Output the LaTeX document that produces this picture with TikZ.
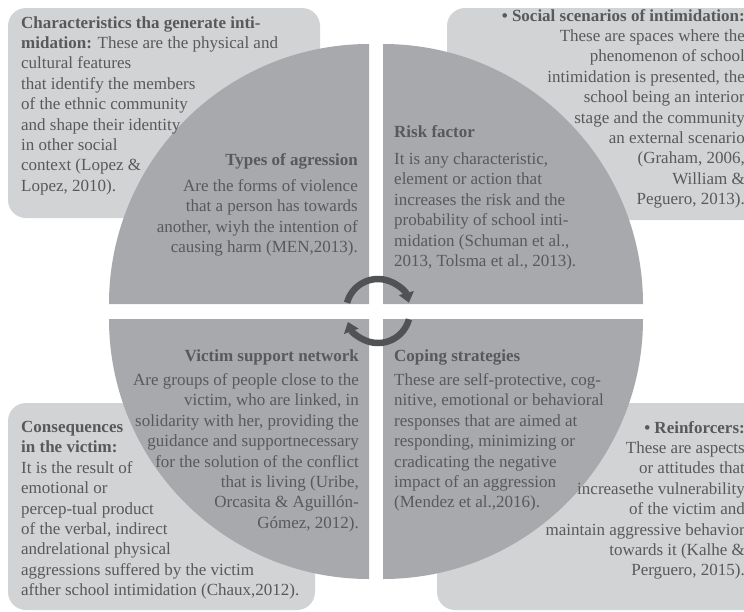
\documentclass[tikz,border=0pt]{standalone}
\usepackage{fontspec}
\setmainfont{Liberation Serif}
\usetikzlibrary{arrows.meta}
\definecolor{quad}{HTML}{A7A9AC}
\definecolor{light}{HTML}{D1D3D4}
\definecolor{txt}{HTML}{58595B}
\definecolor{ring}{HTML}{515254}
\begin{document}
\begin{tikzpicture}[x=1pt,y=-1pt,
  box/.style={fill=light, rounded corners=18pt},
  sector/.style={fill=quad},
  body/.style={inner sep=0pt, text=txt, font=\fontsize{17}{20.4}\selectfont},
  lblock/.style={body, align=left, anchor=north west},
  rblock/.style={body, align=right, anchor=north east},
  cyc/.style={draw=ring, line width=6.5pt, -{Triangle[width=15pt,length=10pt]}}]
\useasboundingbox (0,0) rectangle (744,611);
% light boxes
\path[box] (8,8) rectangle (320,218);
\path[box] (447,8) rectangle (770,220);
\path[box] (8,403) rectangle (315,610);
\path[box] (437,403) rectangle (770,610);
% quarter discs
\path[sector] (369,304) -- (109,304) arc[start angle=180, end angle=90, radius=260pt] -- cycle;
\path[sector] (383,304) -- (383,44) arc[start angle=90, end angle=0, radius=260pt] -- cycle;
\path[sector] (369,319) -- (369,579) arc[start angle=270, end angle=180, radius=260pt] -- cycle;
\path[sector] (383,319) -- (643,319) arc[start angle=0, end angle=-90, radius=260pt] -- cycle;
% cycle arrows
\coordinate (c) at (378,311);
\draw[cyc] ([shift={(165:32pt)}]c) arc[start angle=165, end angle=15, radius=32pt];
\draw[cyc] ([shift={(-15:32pt)}]c) arc[start angle=-15, end angle=-160, radius=32pt];
% box texts
\node[lblock] (tl) at (21,16) {\textbf{Characteristics tha generate inti-}\\
  \textbf{midation:} These are the physical and\\ cultural features\\ that identify the members\\
  of the ethnic community\\ and shape their identity\\ in other social\\ context (Lopez \&\\ Lopez, 2010).};
\node[rblock] (tr) at (745,9) {\textbf{• Social scenarios of intimidation:}\\ These are spaces where the\\
  phenomenon of school\\ intimidation is presented, the\\ school being an interior\\
  stage and the community\\ an external scenario\\ (Graham, 2006,\\ William \&\\ Peguero, 2013).};
\node[lblock] (bl) at (21,421) {\textbf{Consequences}\\ \textbf{in the victim:}\\ It is the result of\\
  emotional or\\ percep-tual product\\ of the verbal, indirect\\ andrelational physical\\
  aggressions suffered by the victim\\ afther school intimidation (Chaux,2012).};
\node[rblock] (br) at (745,421) {\textbf{• Reinforcers:}\\ These are aspects\\ or attitudes that\\
  increasethe vulnerability\\ of the victim and\\ maintain aggressive behavior\\
  towards it (Kalhe \&\\ Perguero, 2015).};
% quadrant texts
\node[rblock] (types) at (358,153) {\textbf{Types of agression}\\[6pt] Are the forms of violence\\
  that a person has towards\\ another, wiyh the intention of\\ causing harm (MEN,2013).};
\node[lblock] (risk) at (394,125) {\textbf{Risk factor}\\[7pt] It is any characteristic,\\
  element or action that\\ increases the risk and the\\ probability of school inti-\\
  midation (Schuman et al.,\\ 2013, Tolsma et al., 2013).};
\node[rblock] (victim) at (359,349) {\textbf{Victim support network}\\[4pt] Are groups of people close to the\\
  victim, who are linked, in\\ solidarity with her, providing the\\ guidance and supportnecessary\\
  for the solution of the conflict\\ that is living (Uribe,\\ Orcasita \& Aguillón-\\ Gómez, 2012).};
\node[lblock] (coping) at (394,349) {\textbf{Coping strategies}\\[4pt] These are self-protective, cog-\\
  nitive, emotional or behavioral\\ responses that are aimed at\\ responding, minimizing or\\
  cradicating the negative\\ impact of an aggression\\ (Mendez et al.,2016).};
\end{tikzpicture}
\end{document}
